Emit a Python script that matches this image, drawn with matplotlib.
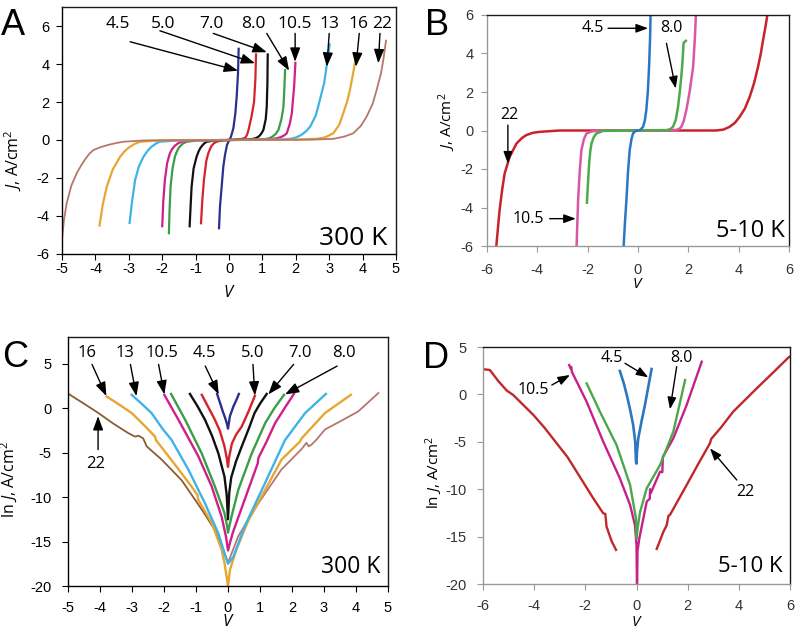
import matplotlib
matplotlib.use("Agg")
import matplotlib.pyplot as plt

plt.rcParams['axes.unicode_minus'] = False
plt.rcParams['mathtext.fontset'] = 'custom'
plt.rcParams['mathtext.rm'] = 'Open Sans'
plt.rcParams['mathtext.it'] = 'Open Sans:italic'
plt.rcParams['font.family'] = ['Open Sans', 'DejaVu Sans']

# ---------------- Panel A (300 K, J-V) ----------------
a45_v = [-0.30, -0.27, -0.22, -0.17, -0.12, -0.06, 0.0, 0.06, 0.13, 0.19, 0.23, 0.27, 0.29]
a45_j = [-4.70, -3.51, -2.46, -1.40, -0.79, -0.26, -0.03, 0.18, 0.61, 1.40, 2.28, 3.51, 4.86]
a50_v = [-0.84, -0.80, -0.75, -0.68, -0.62, -0.57, -0.52, -0.45, -0.37, -0.20, 0.0, 0.20, 0.40, 0.46, 0.50,
         0.54, 0.58, 0.67, 0.75, 0.79, 0.81]
a50_j = [-4.44, -3.20, -2.10, -1.10, -0.70, -0.48, -0.30, -0.17, -0.09, -0.02, 0.0, 0.02, 0.06, 0.10, 0.15,
         0.28, 0.50, 1.20, 2.00, 3.20, 4.56]
a70_v = [-1.18, -1.15, -1.12, -1.06, -0.97, -0.91, -0.85, -0.76, -0.67, -0.40, 0.0, 0.50, 0.73, 0.82, 0.90,
         0.97, 1.03, 1.10, 1.13, 1.15, 1.16]
a70_j = [-4.60, -3.50, -2.46, -1.50, -0.88, -0.60, -0.40, -0.21, -0.09, -0.02, 0.0, 0.02, 0.06, 0.11, 0.20,
         0.34, 0.53, 1.10, 1.75, 3.00, 4.56]
a80_v = [-1.80, -1.78, -1.75, -1.69, -1.62, -1.56, -1.50, -1.39, -1.27, -0.90, 0.0, 0.90, 1.13, 1.22, 1.30,
         1.40, 1.48, 1.57, 1.63, 1.66, 1.68]
a80_j = [-4.96, -3.70, -2.46, -1.50, -0.88, -0.60, -0.40, -0.20, -0.09, -0.02, 0.0, 0.02, 0.06, 0.10, 0.18,
         0.32, 0.53, 1.10, 1.75, 2.80, 3.74]
a105_v = [-2.00, -1.97, -1.92, -1.85, -1.77, -1.70, -1.62, -1.52, -1.42, -1.00, 0.0, 1.00, 1.33, 1.45, 1.55,
          1.65, 1.73, 1.82, 1.88, 1.95, 1.99]
a105_j = [-4.60, -3.30, -2.10, -1.20, -0.70, -0.47, -0.30, -0.17, -0.09, -0.02, 0.0, 0.02, 0.06, 0.10, 0.15,
          0.24, 0.35, 0.85, 1.40, 2.81, 4.12]
a13_v = [-2.98, -2.90, -2.81, -2.70, -2.56, -2.45, -2.35, -2.20, -2.07, -1.50, 0.0, 1.50, 1.83, 2.00, 2.15,
         2.30, 2.43, 2.60, 2.72, 2.85, 2.92, 3.02]
a13_j = [-4.42, -3.20, -2.10, -1.40, -0.88, -0.60, -0.40, -0.20, -0.09, -0.02, 0.0, 0.02, 0.06, 0.13, 0.25,
         0.45, 0.70, 1.30, 2.10, 3.00, 3.86, 5.09]
a16_v = [-3.88, -3.78, -3.66, -3.48, -3.26, -3.13, -3.00, -2.83, -2.66, -2.00, 0.0, 2.00, 2.62, 2.88, 3.12,
         3.30, 3.42, 3.55, 3.62, 3.70, 3.79]
a16_j = [-4.56, -3.40, -2.46, -1.55, -0.88, -0.60, -0.40, -0.21, -0.09, -0.02, 0.0, 0.02, 0.06, 0.14, 0.35,
         0.80, 1.40, 2.10, 2.63, 3.35, 4.25]
a22_v = [-5.00, -4.94, -4.86, -4.72, -4.56, -4.42, -4.30, -4.18, -4.06, -3.85, -3.60, -3.38, -3.16, -2.50,
         0.0, 2.50, 3.12, 3.45, 3.72, 3.95, 4.12, 4.30, 4.42, 4.55, 4.62, 4.70]
a22_j = [-5.20, -4.20, -3.33, -2.40, -1.75, -1.32, -1.00, -0.72, -0.53, -0.38, -0.25, -0.16, -0.09, -0.02,
         0.0, 0.02, 0.06, 0.18, 0.35, 0.75, 1.23, 1.90, 2.63, 3.50, 4.21, 5.23]

# ---------------- Panel B (5-10 K, J-V) ----------------
b45_v = [-0.57, -0.52, -0.46, -0.40, -0.33, -0.26, -0.20, -0.10, 0.0, 0.10, 0.20, 0.27, 0.33, 0.39, 0.44, 0.48, 0.50]
b45_j = [-6.0, -4.8, -3.62, -2.2, -1.02, -0.45, -0.16, -0.03, 0.0, 0.04, 0.19, 0.50, 1.06, 2.0, 3.31, 4.8, 6.0]
b80_v = [-2.03, -1.99, -1.95, -1.90, -1.85, -1.76, -1.66, -1.39, 0.0, 1.13, 1.28, 1.39, 1.50, 1.59, 1.66, 1.72, 1.77, 1.81, 1.90]
b80_j = [-3.75, -2.8, -1.89, -1.1, -0.68, -0.35, -0.16, -0.02, 0.0, 0.02, 0.07, 0.19, 0.55, 1.23, 2.0, 2.79, 3.6, 4.55, 4.66]
b105_v = [-2.44, -2.41, -2.38, -2.32, -2.25, -2.15, -2.05, -1.85, -1.66, -1.0, 0.0, 1.0, 1.52, 1.63, 1.72, 1.82, 1.92,
          2.05, 2.19, 2.26, 2.30]
b105_j = [-6.0, -4.8, -3.62, -2.2, -1.02, -0.45, -0.16, -0.05, -0.02, 0.0, 0.0, 0.0, 0.03, 0.08, 0.19, 0.5, 1.06,
          2.0, 3.31, 4.8, 6.0]
b22_v = [-5.63, -5.56, -5.50, -5.40, -5.30, -5.10, -4.83, -4.62, -4.44, -4.18, -3.91, -3.11, 0.0, 3.11, 3.40, 3.64,
         3.85, 4.04, 4.25, 4.44, 4.62, 4.77, 4.88, 4.97, 5.06, 5.14]
b22_j = [-6.0, -5.0, -4.14, -3.1, -2.24, -1.37, -0.68, -0.40, -0.24, -0.12, -0.07, 0.0, 0.0, 0.0, 0.05, 0.19,
         0.40, 0.71, 1.15, 1.75, 2.50, 3.31, 4.0, 4.70, 5.35, 6.0]

# ---------------- Panel C (300 K, ln J-V) ----------------
c45_v = [-0.34, -0.25, -0.16, -0.08, -0.03, 0.0, 0.03, 0.06, 0.17, 0.26, 0.34]
c45_j = [1.6, 0.6, -0.4, -1.2, -1.8, -2.3, -1.6, -0.9, 0.2, 0.9, 1.6]
c50_v = [-0.82, -0.60, -0.41, -0.25, -0.11, -0.04, 0.0, 0.03, 0.12, 0.25, 0.43, 0.65, 0.84]
c50_j = [1.5, 0.0, -1.3, -2.6, -4.3, -5.6, -6.6, -5.6, -4.0, -3.0, -2.06, -0.3, 1.4]
c70_v = [-1.19, -0.95, -0.72, -0.50, -0.30, -0.11, -0.04, 0.0, 0.04, 0.10, 0.25, 0.43, 0.65, 0.83, 1.00, 1.21]
c70_j = [1.6, 0.2, -1.3, -3.1, -5.1, -7.7, -9.8, -12.5, -9.5, -7.8, -6.0, -4.3, -2.3, -0.55, 0.5, 1.6]
c80_v = [-1.78, -1.34, -0.82, -0.41, -0.11, -0.03, 0.0, 0.04, 0.11, 0.32, 0.74, 1.16, 1.45, 1.75]
c80_j = [1.6, -1.3, -5.1, -8.8, -11.8, -13.2, -14.0, -13.3, -12.2, -9.2, -5.1, -1.7, 0.0, 1.5]
c105_v = [-1.99, -1.55, -1.20, -0.93, -0.51, -0.20, -0.06, 0.0, 0.05, 0.15, 0.41, 0.80, 0.93, 0.95, 1.20, 1.47, 1.75, 2.06]
c105_j = [1.5, -1.3, -3.6, -5.4, -8.8, -12.2, -14.5, -16.0, -15.3, -14.0, -11.4, -7.5, -6.2, -5.6, -3.8, -1.7, -0.1, 1.6]
c13_v = [-3.01, -2.70, -2.39, -2.05, -1.76, -1.24, -0.72, -0.30, -0.11, 0.0, 0.17, 0.52, 1.16, 1.78, 2.41, 3.06]
c13_j = [1.5, 0.5, -0.55, -2.3, -3.6, -6.9, -10.7, -14.1, -16.3, -17.5, -16.7, -13.3, -8.4, -3.6, -0.55, 1.6]
c16_v = [-3.79, -3.40, -3.01, -2.60, -2.28, -2.25, -1.86, -1.14, -0.95, -0.93, -0.51, -0.20, -0.11, 0.0, 0.06, 0.25,
         0.64, 1.16, 1.67, 2.25, 2.30, 3.03, 3.84]
c16_j = [1.3, 0.4, -0.55, -2.0, -3.2, -3.6, -5.4, -8.8, -9.8, -10.3, -12.9, -15.9, -17.4, -20.0, -18.2, -16.0,
         -12.6, -9.2, -5.8, -3.75, -3.4, -0.55, 1.5]
c22l_v = [-4.99, -4.50, -4.05, -3.60, -3.12, -2.91, -2.80, -2.65, -2.54, -2.07, -1.45, -0.82, -0.41, -0.15, 0.0]
c22l_j = [1.62, 0.5, -0.55, -1.7, -2.8, -3.2, -3.1, -3.4, -4.3, -5.8, -8.1, -11.4, -13.7, -15.9, -17.4]
c22r_v = [0.0, 0.32, 0.95, 1.67, 2.30, 2.45, 2.52, 2.61, 2.75, 3.03, 3.50, 4.07, 4.70]
c22r_j = [-17.4, -14.4, -10.7, -6.9, -4.6, -3.9, -4.3, -4.1, -3.6, -2.4, -1.5, -0.37, 1.7]

# ---------------- Panel D (5-10 K, ln J-V) ----------------
d45_v = [-0.65, -0.50, -0.38, -0.25, -0.13, -0.05, -0.02, 0.0, 0.02, 0.07, 0.20, 0.33, 0.46, 0.59]
d45_j = [2.47, 1.2, -0.06, -1.6, -3.23, -5.0, -7.1, -7.3, -6.0, -4.63, -2.8, -1.12, 0.8, 2.68]
d80_v = [-1.95, -1.43, -0.78, -0.25, -0.02, 0.0, 0.05, 0.14, 0.40, 0.92, 1.44, 1.90]
d80_j = [1.17, -1.82, -5.34, -9.56, -13.1, -15.2, -14.0, -12.4, -9.9, -7.45, -3.93, 1.52]
d105_v = [-2.63, -2.58, -2.55, -2.53, -1.95, -1.30, -0.65, -0.25, -0.06, 0.0, 0.02, 0.04, 0.11, 0.40, 0.52, 0.53,
          0.56, 0.92, 1.01, 1.03, 1.44, 1.96, 2.55]
d105_j = [3.10, 2.75, 2.9, 2.40, -0.77, -4.99, -8.85, -11.67, -13.8, -15.9, -20.5, -16.5, -15.2, -11.3, -11.0, -10.0,
          -10.4, -8.15, -8.2, -6.6, -4.63, -1.12, 3.45]
d22l_v = [-5.99, -5.80, -5.73, -5.40, -5.07, -4.82, -4.43, -4.03, -3.60, -3.12, -2.70, -2.34, -1.69, -1.30, -1.22,
          -1.17, -0.97, -0.80]
d22l_j = [2.65, 2.6, 2.57, 1.4, 0.4, -0.06, -1.1, -2.17, -3.5, -5.16, -6.6, -8.15, -10.96, -12.54, -12.6,
          -13.95, -15.5, -16.4]
d22r_v = [0.79, 1.05, 1.18, 1.25, 1.31, 1.96, 2.40, 2.87, 2.92, 3.30, 3.78, 4.70, 5.30, 5.93, 6.0]
d22r_j = [-16.3, -14.5, -13.8, -12.8, -12.7, -9.56, -7.4, -5.16, -4.7, -3.5, -1.82, 0.64, 2.2, 3.87, 4.0]

# ---------------- figure ----------------
W, H = 796, 643
fig = plt.figure(figsize=(W / 100, H / 100), dpi=100)


def axes_px(l, t, r, b):
    return fig.add_axes([l / W, 1 - b / H, (r - l) / W, (b - t) / H])


def ftext(x, y, s, **kw):
    fig.text(x / W, 1 - y / H, s, **kw)


TICKFONT = 'Liberation Sans'


def style(ax, xlim, ylim, xt, yt, gray=False, xpad=2, ypad=5):
    ax.set_xlim(*xlim)
    ax.set_ylim(*ylim)
    ax.set_xticks(xt)
    ax.set_yticks(yt)
    ax.set_xticklabels([str(v) for v in xt], fontfamily=TICKFONT, fontsize=10.5)
    ax.set_yticklabels([str(v) for v in yt], fontfamily=TICKFONT, fontsize=10.5)
    tc = '#999999' if gray else 'black'
    lc = '#333333' if gray else 'black'
    ax.tick_params(axis='x', direction='out', length=4, width=0.8, color=tc, labelcolor=lc, pad=xpad)
    ax.tick_params(axis='y', direction='out', length=4, width=0.8, color=tc, labelcolor=lc, pad=ypad)
    for s in ['top', 'right']:
        ax.spines[s].set_color('#1a1a1a')
        ax.spines[s].set_linewidth(1.0)
    for s in ['left', 'bottom']:
        ax.spines[s].set_color('#999999' if gray else 'black')
        ax.spines[s].set_linewidth(1.0)


def arrow(ax, start, tip, ms=14):
    ax.annotate('', xy=tip, xytext=start,
                arrowprops=dict(arrowstyle='-|>,head_length=0.6,head_width=0.22', lw=1.0, color='black',
                                mutation_scale=ms, shrinkA=0, shrinkB=0))


NAVY, RED, BLACK, GREEN = '#2c2f8e', '#d4232b', '#111111', '#3a9d48'
MAG, SKY, ORANGE, BROWN = '#d11f8a', '#3fb3e7', '#e7a633', '#b5786b'

# ---- A ----
axA = axes_px(62, 7, 396, 254)
style(axA, (-5, 5), (-6, 7), list(range(-5, 6)), list(range(-6, 7, 2)), xpad=2, ypad=5)
for v, j, c in [(a45_v, a45_j, NAVY), (a50_v, a50_j, RED), (a70_v, a70_j, BLACK), (a80_v, a80_j, GREEN),
                (a105_v, a105_j, MAG), (a13_v, a13_j, SKY), (a16_v, a16_j, ORANGE)]:
    axA.plot(v, j, color=c, lw=1.6, solid_capstyle='butt', solid_joinstyle='round')
axA.plot(a22_v, a22_j, color=BROWN, lw=1.3, solid_joinstyle='round')
fsA = 12.5
for s, tx, st, tp in [('4.5', -3.32, (-2.96, 5.17), (0.27, 3.65)),
                      ('5.0', -1.97, (-2.07, 5.75), (0.78, 4.04)),
                      ('7.0', -0.52, (-0.47, 5.61), (1.13, 4.62)),
                      ('8.0', 0.73, (1.13, 5.61), (1.80, 3.65)),
                      ('10.5', 1.98, (1.98, 5.61), (1.98, 4.12)),
                      ('13', 3.0, (3.0, 5.61), (2.93, 3.86)),
                      ('16', 3.87, (3.9, 5.61), (3.8, 3.86)),
                      ('22', 4.57, (4.52, 5.61), (4.47, 4.04))]:
    axA.text(tx, 6.08, s, ha='center', va='center', fontsize=fsA)
    arrow(axA, st, tp)

# ---- B ----
BLUE2, GREEN2, PINK2, RED2 = '#2a78c4', '#4cab4a', '#d957a3', '#c8232a'
axB = axes_px(487, 15, 789, 246)
style(axB, (-6, 6), (-6, 6), list(range(-6, 7, 2)), list(range(-6, 7, 2)), gray=True, xpad=8.5, ypad=5.5)
axB.plot(b22_v, b22_j, color=RED2, lw=1.8)
axB.plot(b105_v, b105_j, color=PINK2, lw=1.8)
axB.plot(b80_v, b80_j, color=GREEN2, lw=1.8)
axB.plot(b45_v, b45_j, color=BLUE2, lw=1.8)
fsB = 11.5
axB.text(-1.79, 5.31, '4.5', ha='center', va='center', fontsize=fsB)
arrow(axB, (-1.19, 5.31), (0.40, 5.31), ms=12)
axB.text(1.32, 5.31, '8.0', ha='center', va='center', fontsize=fsB)
arrow(axB, (1.13, 4.53), (1.50, 2.18), ms=12)
axB.text(-5.1, 0.8, '22', ha='center', va='center', fontsize=fsB)
arrow(axB, (-5.17, 0.28), (-5.17, -1.72), ms=12)
axB.text(-4.37, -4.58, '10.5', ha='center', va='center', fontsize=fsB)
arrow(axB, (-3.51, -4.58), (-2.47, -4.58), ms=12)

# ---- C ----
BROWN_D = '#8c5b30'
axC = axes_px(68, 337, 388, 586)
style(axC, (-5, 5), (-20, 8), list(range(-5, 6)), list(range(-20, 6, 5)), xpad=7, ypad=8)
axC.plot(c22l_v, c22l_j, color=BROWN_D, lw=1.3)
axC.plot(c22r_v, c22r_j, color=BROWN, lw=1.3)
for v, j, c in [(c16_v, c16_j, ORANGE), (c13_v, c13_j, SKY), (c105_v, c105_j, MAG), (c80_v, c80_j, GREEN),
                (c70_v, c70_j, BLACK), (c50_v, c50_j, RED), (c45_v, c45_j, NAVY)]:
    axC.plot(v, j, color=c, lw=1.7)
fsC = 12
for s, tx, st, tp in [('16', -4.41, (-4.25, 4.92), (-3.80, 1.35)),
                      ('13', -3.21, (-3.05, 4.92), (-2.86, 1.35)),
                      ('10.5', -2.06, (-2.17, 4.92), (-1.99, 1.54)),
                      ('4.5', -0.74, (-0.71, 4.73), (-0.29, 1.54)),
                      ('5.0', 0.78, (0.78, 4.92), (0.84, 1.42)),
                      ('7.0', 2.24, (2.05, 4.92), (1.26, 1.54)),
                      ('8.0', 3.61, (3.41, 4.73), (1.78, 1.54))]:
    axC.text(tx, 6.24, s, ha='center', va='center', fontsize=fsC)
    arrow(axC, st, tp)
axC.text(-4.15, -6.3, '22', ha='center', va='center', fontsize=fsC)
arrow(axC, (-4.06, -4.66), (-4.06, -0.9))

# ---- D ----
BLUE3, GREEN3, MAG3, RED3 = '#2d77bf', '#4aa84a', '#c8208a', '#c0282a'
axD = axes_px(483, 347, 790, 584)
style(axD, (-6, 6), (-20, 5), list(range(-6, 7, 2)), list(range(-20, 6, 5)), gray=True, xpad=7, ypad=8)
axD.plot(d22l_v, d22l_j, color=RED3, lw=1.7)
axD.plot(d22r_v, d22r_j, color=RED3, lw=1.7)
axD.plot(d105_v, d105_j, color=MAG3, lw=1.7)
axD.plot(d80_v, d80_j, color=GREEN3, lw=1.7)
axD.plot(d45_v, d45_j, color=BLUE3, lw=1.9)
fsD = 11.5
axD.text(-0.97, 3.81, '4.5', ha='center', va='center', fontsize=fsD)
arrow(axD, (-0.45, 3.28), (0.46, 1.80), ms=12)
axD.text(1.77, 3.81, '8.0', ha='center', va='center', fontsize=fsD)
arrow(axD, (1.57, 2.92), (1.31, -1.57), ms=12)
axD.text(-4.03, 0.46, '10.5', ha='center', va='center', fontsize=fsD)
arrow(axD, (-3.31, 0.99), (-2.60, 2.05), ms=12)
axD.text(4.24, -10.26, '22', ha='center', va='center', fontsize=fsD)
arrow(axD, (3.92, -9.03), (2.87, -5.69), ms=12)

# ---- temperature labels ----
ftext(387, 245, '300 K', ha='right', va='baseline', fontsize=19)
ftext(785, 237, '5-10 K', ha='right', va='baseline', fontsize=17)
ftext(380, 573, '300 K', ha='right', va='baseline', fontsize=16.5)
ftext(783, 572, '5-10 K', ha='right', va='baseline', fontsize=16)

# ---- panel letters ----
for s, x, y in [('A', 1, 35), ('B', 425, 35), ('C', 2, 367), ('D', 423, 368)]:
    ftext(x, y, s, ha='left', va='baseline', fontsize=26, fontfamily='Liberation Sans')

# ---- axis labels ----
jl = r'$\mathit{J}$, A/cm$^2$'
ljl = r'ln $\mathit{J}$, A/cm$^2$'
ftext(12.5, 160, jl, rotation=90, ha='center', va='center', fontsize=11.5)
ftext(447, 122, jl, rotation=90, ha='center', va='center', fontsize=11)
ftext(9, 480, ljl, rotation=90, ha='center', va='center', fontsize=11.5)
ftext(434, 472, ljl, rotation=90, ha='center', va='center', fontsize=11)
ftext(229, 293, r'$\mathit{V}$', ha='center', va='center', fontsize=12)
ftext(638, 285, r'$\mathit{V}$', ha='center', va='center', fontsize=11)
ftext(228, 622, r'$\mathit{V}$', ha='center', va='center', fontsize=12)
ftext(637, 623, r'$\mathit{V}$', ha='center', va='center', fontsize=11)

fig.savefig('out.png', dpi=100)
